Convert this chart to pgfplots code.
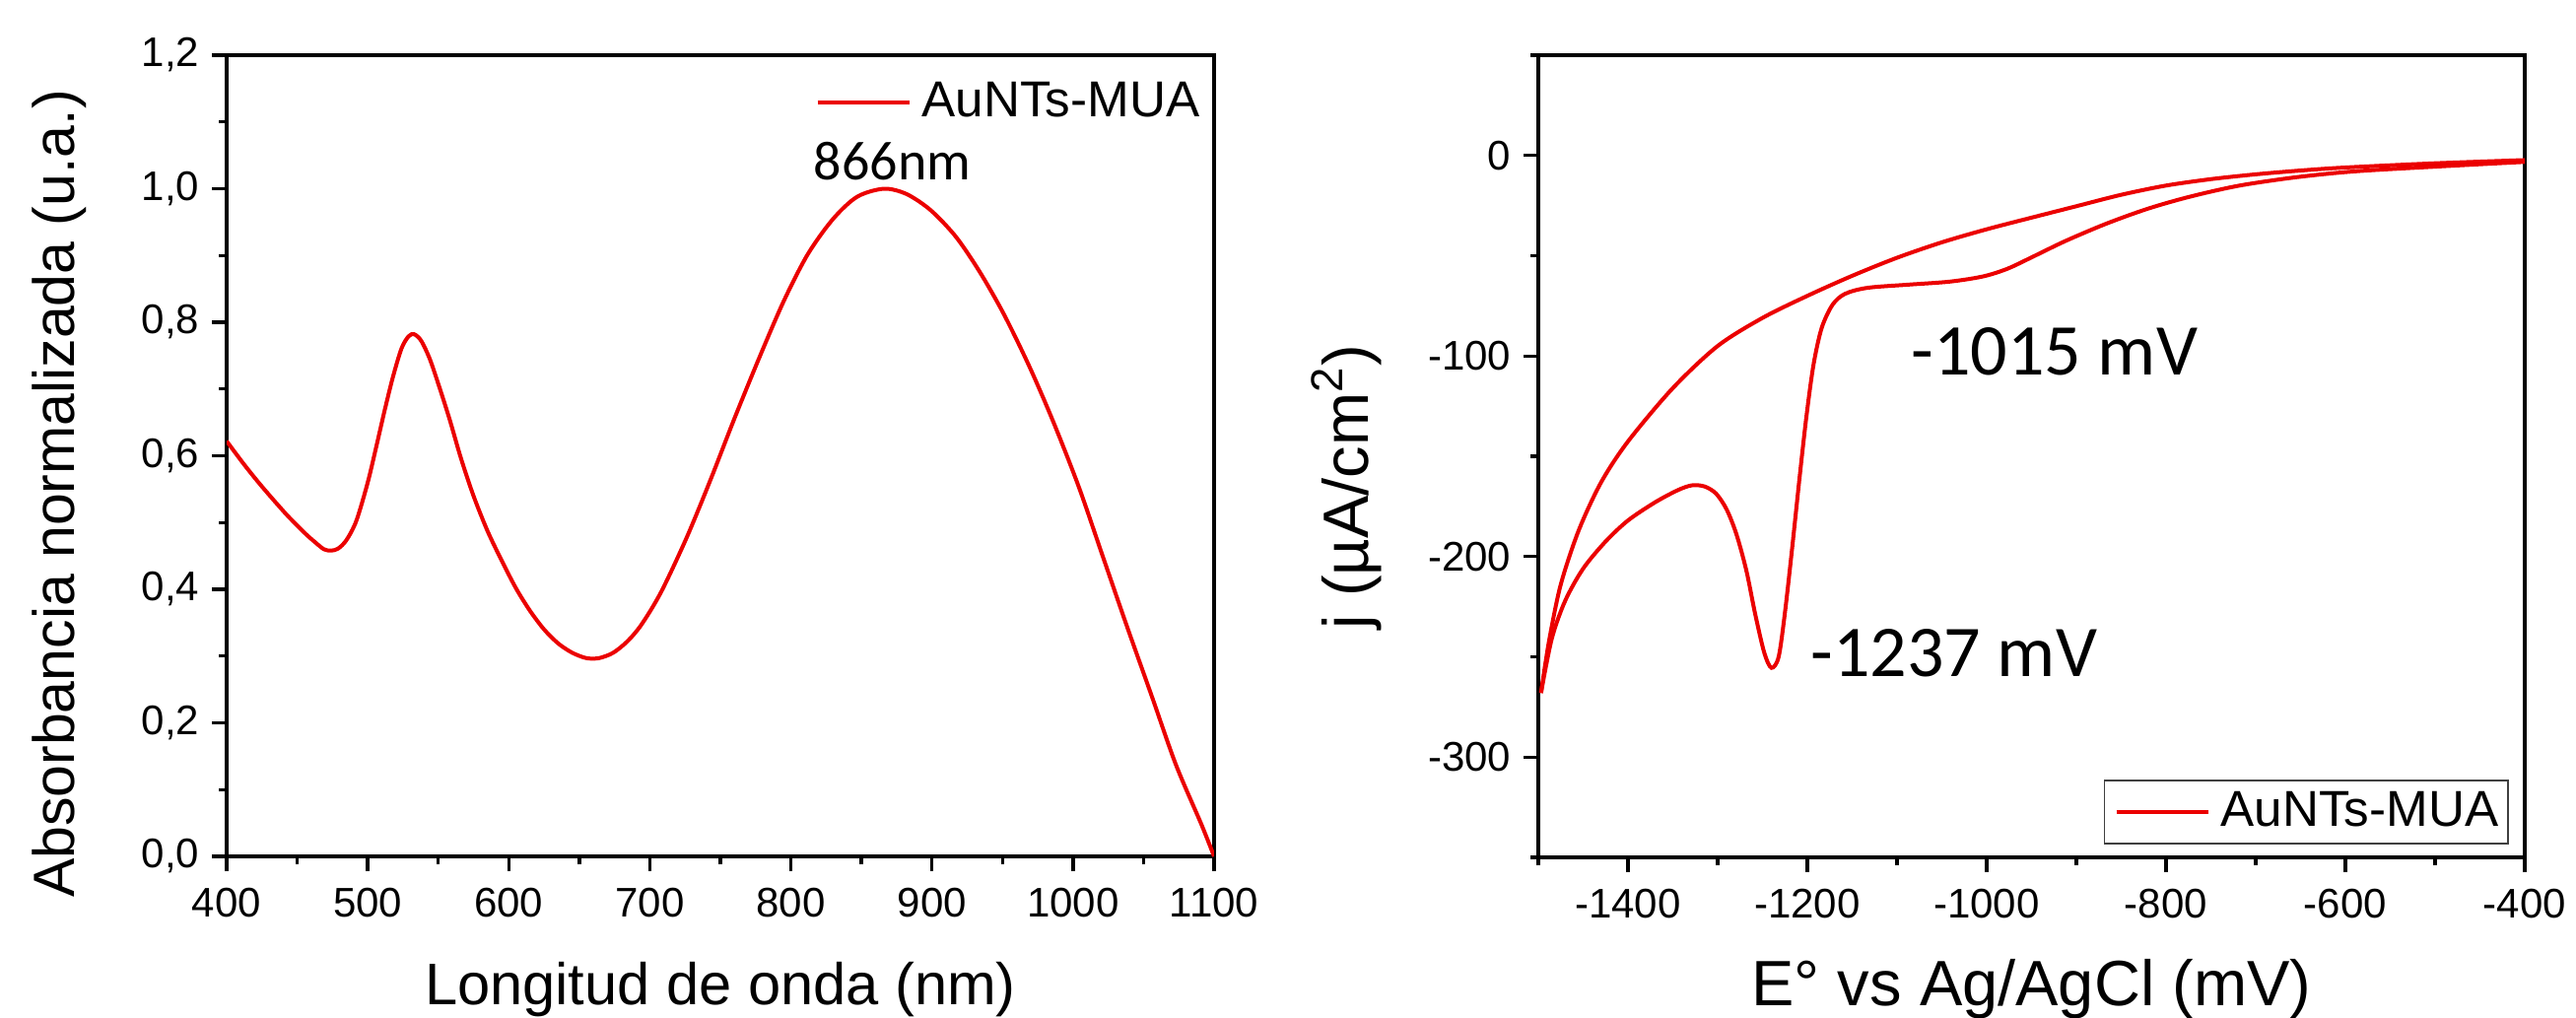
\documentclass[border=0pt]{standalone}
\usepackage{fontspec}
\setmainfont{Liberation Sans}
\newfontfamily\carlito{Carlito}
\usepackage{pgfplots}
\pgfplotsset{compat=1.18}
\definecolor{curvered}{RGB}{235,0,0}
\begin{document}
\begin{tikzpicture}
\useasboundingbox (0pt,0pt) rectangle (653.5pt,-258pt);
\pgfplotsset{
  common/.style={
    scale only axis,
    axis line style={line width=0.85pt},
    tick style={line width=0.85pt, black},
    tick align=outside,
    tick pos=left,
    major tick length=3.75pt,
    minor tick length=2pt,
    /pgf/number format/assume math mode=true,
    ticklabel style={font=\fontsize{10.5}{12}\selectfont, inner sep=0pt},
    label style={inner sep=0pt},
    legend style={font=\fontsize{12.8}{14}\selectfont},
    legend image code/.code={\draw[#1, line width=1pt] (0pt,0pt) -- (23.25pt,0pt); \path (26pt,0pt);},
  },
}
% ---------------- left axis ----------------
\begin{axis}[common,
  at={(57.5pt,-14pt)}, anchor=north west,
  width=250.5pt, height=203.25pt,
  xmin=400, xmax=1100, ymin=0, ymax=1.2,
  xtick={400,500,...,1100},
  xticklabels={400,500,600,700,800,900,1000,1100},
  minor xtick={450,550,...,1050},
  ytick={0,0.2,0.4,0.6,0.8,1.0,1.2},
  yticklabels={{0,0},{0,2},{0,4},{0,6},{0,8},{1,0},{1,2}},
  minor ytick={0.1,0.3,...,1.1},
  xticklabel shift=4pt,
  yticklabel shift=3pt,
  xlabel={Longitud de onda (nm)},
  ylabel={Absorbancia normalizada (u.a.)},
  xlabel style={font=\fontsize{14.9}{17}\selectfont, at={(rel axis cs:0.5,-0.1857)}, anchor=base},
  ylabel style={font=\fontsize{14.75}{17}\selectfont, at={(rel axis cs:-0.1537,0.4526)}, anchor=base},
  legend style={draw=none, fill=none, at={(rel axis cs:0.986,0.967)}, anchor=north east, inner sep=0pt, nodes={inner sep=0pt}},
]
\addplot[curvered, line width=1pt, smooth] coordinates {
(400,0.622) (412,0.588) (425,0.554) (442,0.513) (455,0.485) (463,0.470)
(469,0.460) (474,0.458) (479,0.461) (485,0.474) (492,0.503) (500,0.560)
(506,0.613) (512,0.668) (518,0.719) (524,0.761) (529,0.779) (533,0.782)
(538,0.772) (544,0.745) (550,0.708) (558,0.655) (566,0.597) (575,0.540)
(585,0.487) (595,0.443) (605,0.402) (615,0.368) (625,0.340) (635,0.319)
(645,0.305) (655,0.297) (664,0.297) (674,0.305) (684,0.322) (694,0.347)
(708,0.396) (726,0.477) (743,0.564) (760,0.656) (778,0.749) (795,0.832)
(812,0.902) (830,0.955) (847,0.988) (866,1.000) (882,0.992) (899,0.968)
(917,0.928) (934,0.875) (951,0.812) (969,0.734) (986,0.651) (1004,0.554)
(1021,0.450) (1038,0.346) (1056,0.239) (1073,0.137) (1091,0.048) (1100,0.000)
};
\addlegendentry{AuNTs-MUA}
\node[anchor=base west, inner sep=0pt, font=\carlito\fontsize{14}{16}\selectfont] at (axis cs:815.7,1.0126) {866nm};
\end{axis}
% ---------------- right axis ----------------
\begin{axis}[common,
  at={(390.25pt,-14pt)}, anchor=north west,
  width=250.25pt, height=203.5pt,
  xmin=-1500, xmax=-400, ymin=-350, ymax=50,
  xtick={-1400,-1200,...,-400},
  xticklabels={-1400,-1200,-1000,-800,-600,-400},
  minor xtick={-1500,-1300,...,-500},
  ytick={-300,-200,-100,0},
  yticklabels={-300,-200,-100,0},
  minor ytick={-350,-250,-150,-50,50},
  xticklabel shift=4pt,
  yticklabel shift=3pt,
  xlabel={E° vs Ag/AgCl (mV)},
  ylabel={j (µA/cm\textsuperscript{2})},
  xlabel style={font=\fontsize{16.25}{18}\selectfont, at={(rel axis cs:0.5,-0.1843)}, anchor=base},
  ylabel style={font=\fontsize{16.25}{18}\selectfont, at={(rel axis cs:-0.1728,0.462)}, anchor=base},
  legend style={draw=black!75, line width=0.4pt, fill=white, at={(rel axis cs:0.984,0.016)}, anchor=south east, inner xsep=2.5pt, inner ysep=2.9pt, nodes={inner sep=0pt}},
]
\addplot[curvered, line width=1pt, smooth] coordinates {
(-400,-2.3) (-500,-3.9) (-600,-6.0) (-650,-7.5) (-700,-9.4) (-750,-11.8) (-800,-15.0) (-850,-19.6)
(-900,-25.3) (-950,-31.0) (-1000,-36.8) (-1050,-43.3) (-1100,-51.0) (-1150,-60.0)
(-1200,-70.0) (-1250,-81.0) (-1300,-95.0) (-1350,-116.0) (-1400,-142.6) (-1430,-163.0)
(-1455,-187.0) (-1475,-214.0) (-1488,-242.0) (-1497,-268.0)
};
\addlegendentry{AuNTs-MUA}
\addplot[curvered, line width=1pt, smooth, forget plot] coordinates {
(-1497,-268.0) (-1485,-241) (-1470,-222) (-1450,-206) (-1425,-192.5) (-1400,-182.0)
(-1370,-173.0) (-1345,-167.0) (-1329,-164.5) (-1315,-165.0) (-1302,-168.5) (-1290,-176.5)
(-1279,-189.0) (-1268,-207.0) (-1258,-229.0) (-1248,-248.0) (-1240,-255.5) (-1232,-250.0)
(-1225,-228.0) (-1217,-196.0) (-1209,-162.0) (-1201,-130.0) (-1193,-104.0) (-1184,-86.0)
(-1172,-74.5) (-1158,-69.0) (-1133,-66.0) (-1087,-64.4) (-1041,-62.9) (-1004,-60.3)
(-977,-56.5) (-949,-50.6) (-912,-42.6) (-866,-33.9) (-820,-26.5) (-773,-20.5)
(-718,-15.0) (-654,-10.8) (-589,-7.9) (-497,-5.5) (-400,-3.2)
};
\node[anchor=base west, inner sep=0pt, font=\carlito\fontsize{18.5}{20}\selectfont] at (axis cs:-1085,-109.5) {-1015 mV};
\node[anchor=base west, inner sep=0pt, font=\carlito\fontsize{18.5}{20}\selectfont] at (axis cs:-1197,-259.8) {-1237 mV};
\end{axis}
\end{tikzpicture}
\end{document}
